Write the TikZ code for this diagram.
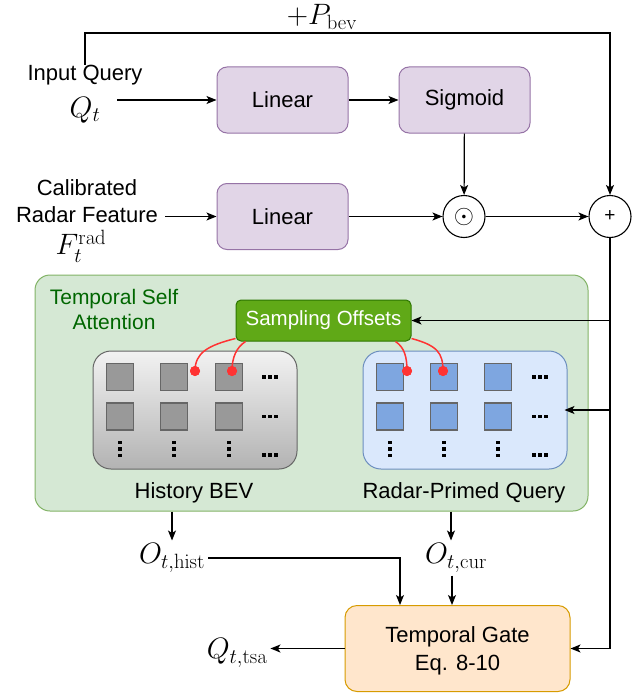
\RequirePackage{fix-cm}
\documentclass[tikz,border=0pt]{standalone}
\usepackage[no-math]{fontspec}
\setmainfont{Liberation Sans}
\usetikzlibrary{arrows.meta,calc}
\definecolor{purfill}{HTML}{E1D5E7}
\definecolor{purline}{HTML}{9673A6}
\definecolor{grnfill}{HTML}{D5E8D4}
\definecolor{grnline}{HTML}{82B366}
\definecolor{grntext}{HTML}{006600}
\definecolor{sofill}{HTML}{60A917}
\definecolor{soline}{HTML}{2D7600}
\definecolor{gryline}{HTML}{666666}
\definecolor{grysq}{HTML}{999999}
\definecolor{bluefill}{HTML}{DAE8FC}
\definecolor{blueline}{HTML}{6C8EBF}
\definecolor{bluesq}{HTML}{7EA6E0}
\definecolor{redc}{HTML}{FF3333}
\definecolor{orfill}{HTML}{FFE6CC}
\definecolor{orline}{HTML}{D79B00}
\begin{document}
\begin{tikzpicture}[x=1pt,y=-1pt,
  every node/.style={inner sep=0pt},
  txt/.style={font=\fontsize{22}{27}\selectfont, text=black},
  mathlbl/.style={font=\fontsize{29.5}{35}\selectfont, inner sep=3pt},
  pbox/.style={draw=purline, fill=purfill, rounded corners=10pt, minimum width=131pt, minimum height=66pt, line width=1pt, font=\fontsize{22}{27}\selectfont},
  opc/.style={draw, circle, fill=white, minimum size=42pt, line width=1.1pt},
  tsabox/.style={draw=grnline, fill=grnfill, rounded corners=15pt, minimum width=553pt, minimum height=236pt, line width=1pt},
  tsatext/.style={font=\fontsize{21}{25}\selectfont, text=grntext, align=center},
  sobox/.style={draw=soline, fill=sofill, rounded corners=5pt, minimum width=175pt, minimum height=41pt, line width=1pt, text=white, font=\fontsize{20.5}{24}\selectfont},
  hbox/.style={draw=gryline, top color=white!95!black, bottom color=black!30, rounded corners=18pt, minimum width=204pt, minimum height=118pt, line width=1pt},
  rbox/.style={draw=blueline, fill=bluefill, rounded corners=18pt, minimum width=204pt, minimum height=118pt, line width=1pt},
  gsq/.style={draw=gryline, fill=grysq, minimum size=27pt, line width=1.5pt},
  bsq/.style={draw=gryline, fill=bluesq, minimum size=27pt, line width=1.5pt},
  gbox/.style={draw=orline, fill=orfill, rounded corners=12pt, minimum width=225pt, minimum height=86pt, line width=1pt},
  gtext/.style={font=\fontsize{22}{28}\selectfont, align=center},
  dotn/.style={circle, fill=redc, minimum size=10pt},
  redl/.style={draw=redc, line width=1.5pt},
  arr/.style={-{Stealth[length=10pt,width=8pt,inset=2.5pt]}, line width=1.2pt},
  hdots/.pic={\foreach \i in {-1,0,1} \fill (\i*6-1.8,-1.8) rectangle ++(3.6,3.6);},
  vdots/.pic={\foreach \i in {-1,0,1} \fill (-1.8,\i*6.5-1.8) rectangle ++(3.6,3.6);}
]
\useasboundingbox (0,0) rectangle (642,693);

% top row
\node[mathlbl] (pbev) at (322,17) {$+P_{\mathrm{bev}}$};
\node[txt] (iq) at (85,75) {Input Query};
\node[mathlbl] (qt) at (85,110) {$Q_t$};
\node[pbox] (lin1) at (282.5,100) {Linear};
\node[pbox] (sig) at (464.5,100) {Sigmoid};

% second row
\node[txt, align=center] (crf) at (87,201) {Calibrated\\Radar Feature};
\node[mathlbl] (frad) at (81,246) {$F_t^{\mathrm{rad}}$};
\node[pbox] (lin2) at (282.5,216.5) {Linear};
\node[opc] (odot) at (464,216.5) {\fontsize{26}{30}\selectfont$\odot$};
\node[opc] (plus) at (610,216.5) {\fontsize{19}{22}\selectfont +};

% temporal self attention
\node[tsabox] (tsa) at (311.5,393) {};
\node[tsatext] (tsat) at (114,309) {Temporal Self\\Attention};
\node[hbox] (hist) at (195,410) {};
\node[rbox] (rad) at (465,410) {};

\foreach \x [count=\c] in {120,174,229} {
  \node[gsq] (hA\c) at (\x,377) {};
  \node[gsq] (hB\c) at (\x,416.5) {};
  \pic at (\x,449) {vdots};
}
\foreach \yy in {377,416.5,455} \pic at (270,\yy) {hdots};
\foreach \x [count=\c] in {390,444,498} {
  \node[bsq] (rA\c) at (\x,377) {};
  \node[bsq] (rB\c) at (\x,416.5) {};
  \pic at (\x,449) {vdots};
}
\foreach \yy in {377,416.5,455} \pic at (540,\yy) {hdots};

\node[sobox] (so) at (323.5,320.5) {Sampling Offsets};

\node[dotn] (d1) at (195,371) {};
\node[dotn] (d2) at (232,371) {};
\node[dotn] (d3) at (407,371) {};
\node[dotn] (d4) at (443,371) {};
\draw[redl] ($(so.south west)+(0,-3)$) .. controls +(-28,7) and +(0,-18) .. (d1.center);
\draw[redl] ($(so.south west)+(10,0)$) .. controls +(-9,6) and +(0,-14) .. (d2.center);
\draw[redl] ($(so.south east)+(-16,0)$) .. controls +(9,6) and +(0,-14) .. (d3.center);
\draw[redl] ($(so.south east)+(0,-3)$) .. controls +(26,7) and +(0,-18) .. (d4.center);
\node[dotn] at (d1) {};
\node[dotn] at (d2) {};
\node[dotn] at (d3) {};
\node[dotn] at (d4) {};

\node[txt] (hl) at (194,493) {History BEV};
\node[txt] (rl) at (464,493) {Radar-Primed Query};

% outputs
\node[mathlbl] (ohist) at (172,558) {$O_{t,\mathrm{hist}}$};
\node[mathlbl] (ocur) at (456,558) {$O_{t,\mathrm{cur}}$};
\node[gbox] (gate) at (457.5,648.5) {};
\node[gtext] (gatet) at ([yshift=-2pt]gate.center) {Temporal Gate\\Eq. 8-10};
\node[mathlbl] (qtsa) at (237,653) {$Q_{t,\mathrm{tsa}}$};

% connectors
\coordinate (qs) at (117,100);
\coordinate (fs) at (165,216.5);
\coordinate (topy) at (0,33);
\draw[arr] (qs) -- (lin1.west);
\draw[arr] (lin1) -- (sig);
\draw[arr] (sig) -- (odot);
\draw[arr] (fs) -- (lin2.west);
\draw[arr] (lin2) -- (odot);
\draw[arr] (odot) -- (plus);
\draw[arr] (iq.north) |- (topy -| plus.north) -- (plus.north);
\draw[arr] (plus.south) |- (gate.east);
\draw[arr] (plus.south |- so.east) -- (so.east);
\draw[arr, shorten >=-3pt] (plus.south |- rad.east) -- (rad.east);
\draw[arr] (ohist.north |- tsa.south) -- (ohist.north);
\draw[arr] ([xshift=-5pt]ocur.north |- tsa.south) -- ([xshift=-5pt]ocur.north);
\draw[arr] (ohist.east) -| ([xshift=-57.5pt]gate.north);
\draw[arr] ([xshift=-4pt]ocur.south) -- ([xshift=-4pt]ocur.south |- gate.north);
\draw[arr] (gate.west) -- (gate.west -| qtsa.east);
\end{tikzpicture}
\end{document}
